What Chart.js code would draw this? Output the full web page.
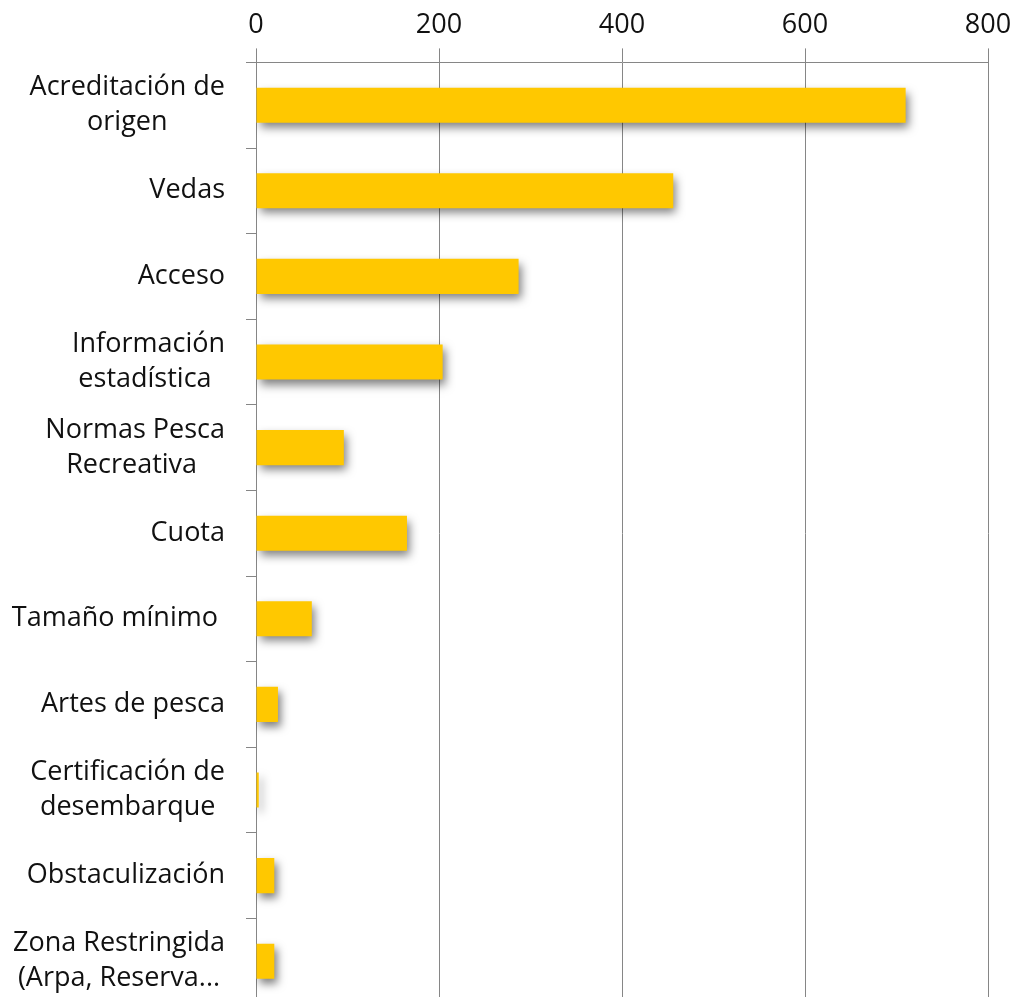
<!DOCTYPE html>
<html>
<head>
<meta charset="utf-8">
<script src="https://cdn.jsdelivr.net/npm/chart.js@4"></script>
<style>
  html, body { margin: 0; padding: 0; background: #fff; overflow: hidden; }
  #wrap { width: 1016px; height: 1004px; }
</style>
</head>
<body>
<div id="wrap"><canvas id="Chart" width="1016" height="1004"></canvas></div>
<script>
var categories = [
  ['Acreditación de', 'origen'],
  ['Vedas'],
  ['Acceso'],
  ['Información', 'estadística '],
  ['Normas Pesca', 'Recreativa '],
  ['Cuota'],
  ['Tamaño mínimo '],
  ['Artes de pesca'],
  ['Certificación de', 'desembarque'],
  ['Obstaculización'],
  ['Zona Restringida', '(Arpa, Reserva...']
];
var values = [710, 456, 287, 204, 96, 165, 61, 24, 3, 20, 20];
var xTicks = [0, 200, 400, 600, 800];

var fontFamily = '"Open Sans", Lato, sans-serif';
var labelFont = '27px ' + fontFamily;
var gridColor = '#868686';

// bars get a soft drop shadow like the original
var shadowPlugin = {
  id: 'barShadow',
  beforeDatasetsDraw: function (chart) {
    var ctx = chart.ctx;
    ctx.save();
    ctx.shadowColor = 'rgba(0,0,0,0.5)';
    ctx.shadowBlur = 9;
    ctx.shadowOffsetX = 3;
    ctx.shadowOffsetY = 5;
  },
  afterDatasetsDraw: function (chart) {
    chart.ctx.restore();
  }
};

// category labels: lines centred on each other, block right aligned
var catLabels = {
  id: 'catLabels',
  afterDraw: function (chart) {
    var ctx = chart.ctx;
    var y = chart.scales.y;
    var right = chart.chartArea.left - 31;
    var lineH = 35;
    ctx.save();
    ctx.font = labelFont;
    ctx.fillStyle = '#111';
    ctx.textAlign = 'center';
    ctx.textBaseline = 'middle';
    categories.forEach(function (lines, i) {
      var cy = y.getPixelForValue(i);
      var maxW = 0;
      lines.forEach(function (l) { maxW = Math.max(maxW, ctx.measureText(l).width); });
      var cx = right - maxW / 2;
      var top = cy - (lines.length - 1) * lineH / 2;
      lines.forEach(function (l, k) {
        ctx.fillText(l, cx, top + k * lineH);
      });
    });
    ctx.restore();
  }
};

var ctx = document.getElementById('Chart').getContext('2d');
var myChart = new Chart(ctx, {
  type: 'bar',
  data: {
    labels: categories.map(function (c) { return c.join(' '); }),
    datasets: [{
      data: values,
      backgroundColor: '#FFC800',
      borderWidth: 0,
      barPercentage: 0.41,
      categoryPercentage: 1.0
    }]
  },
  plugins: [shadowPlugin, catLabels],
  options: {
    indexAxis: 'y',
    responsive: false,
    animation: false,
    layout: { padding: { top: 2, right: 0, left: 0, bottom: 0 } },
    plugins: {
      legend: { display: false },
      tooltip: { enabled: false }
    },
    scales: {
      x: {
        position: 'top',
        min: 0,
        max: 800,
        afterBuildTicks: function (scale) {
          scale.ticks = xTicks.map(function (v) { return { value: v }; });
        },
        afterFit: function (scale) { scale.paddingRight = 28; },
        border: { color: gridColor, width: 1 },
        grid: { color: gridColor, lineWidth: 1, tickLength: 14 },
        ticks: {
          color: '#111',
          padding: 7,
          font: { family: fontFamily, size: 27 }
        }
      },
      y: {
        afterFit: function (scale) { scale.width = 256; },
        border: { color: gridColor, width: 1 },
        grid: { drawOnChartArea: false, color: gridColor, tickLength: 10, offset: true },
        ticks: { display: false }
      }
    }
  }
});
</script>
</body>
</html>
